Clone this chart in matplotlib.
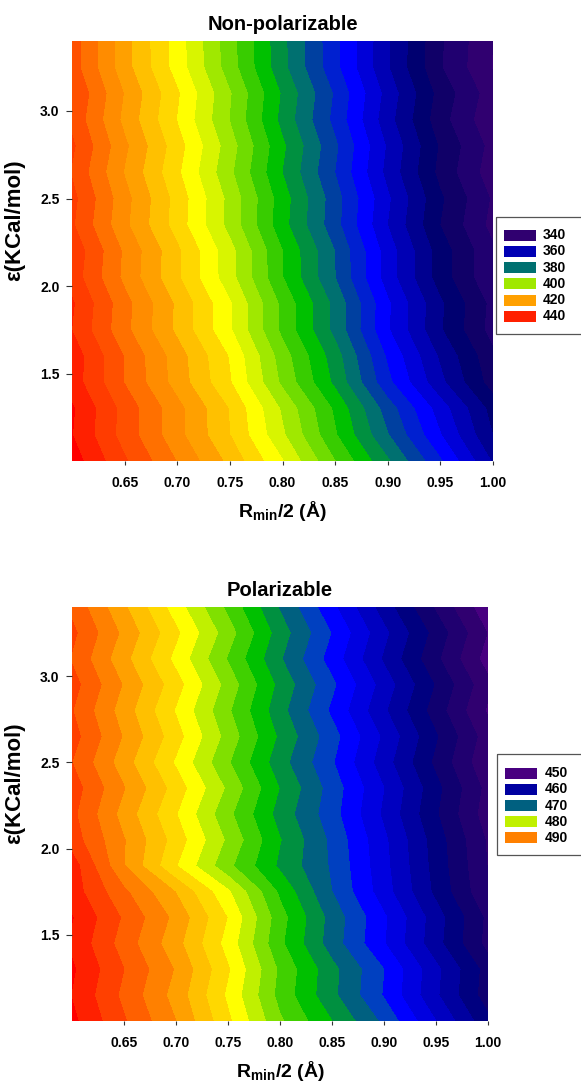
import numpy as np
import matplotlib
matplotlib.use('Agg')
import matplotlib.pyplot as plt
from matplotlib.patches import Rectangle
from matplotlib.transforms import Affine2D

plt.rcParams['font.family'] = ['Liberation Sans', 'DejaVu Sans']
plt.rcParams['mathtext.fontset'] = 'custom'
plt.rcParams['mathtext.rm'] = 'Liberation Sans'
plt.rcParams['mathtext.bf'] = 'Liberation Sans:bold'
plt.rcParams['mathtext.it'] = 'Liberation Sans:italic'

# ---------------- data ----------------
r_values = [0.60, 0.65, 0.70, 0.75, 0.80, 0.85, 0.90, 0.95, 1.00]
eps_values = [1.00, 1.15, 1.30, 1.45, 1.60, 1.75, 1.90, 2.05, 2.20,
              2.35, 2.50, 2.65, 2.80, 2.95, 3.10, 3.25, 3.40]

z_nonpol = [
    [446.0, 436.5, 427.8, 418.8, 408.2, 396.0, 384.5, 372.5, 359.5],
    [444.1, 434.3, 425.3, 416.0, 404.6, 392.4, 380.2, 368.2, 355.9],
    [444.5, 434.5, 425.3, 415.7, 403.3, 391.2, 378.0, 366.0, 354.4],
    [442.1, 431.8, 422.3, 412.3, 399.1, 387.0, 373.0, 361.0, 350.0],
    [442.3, 431.7, 421.9, 411.6, 397.9, 385.8, 371.3, 359.3, 348.9],
    [439.9, 429.1, 419.1, 408.5, 394.9, 382.8, 368.4, 356.4, 346.3],
    [440.5, 429.4, 419.2, 408.4, 394.9, 382.8, 368.6, 356.6, 346.7],
    [438.2, 427.0, 416.6, 405.5, 392.1, 380.0, 366.0, 354.0, 344.4],
    [438.8, 427.3, 416.8, 405.4, 392.0, 379.9, 366.0, 354.0, 344.6],
    [436.5, 424.9, 414.1, 402.6, 389.4, 377.4, 363.9, 351.9, 342.6],
    [437.2, 425.4, 414.4, 402.7, 389.8, 377.7, 364.6, 352.6, 343.4],
    [435.6, 423.7, 412.7, 400.8, 387.9, 375.9, 362.7, 350.7, 341.6],
    [436.7, 424.8, 413.7, 401.8, 388.7, 376.7, 363.4, 351.4, 342.5],
    [435.0, 422.9, 411.8, 399.8, 386.7, 374.7, 361.5, 349.5, 340.7],
    [435.9, 423.7, 412.5, 400.3, 387.4, 375.4, 362.4, 350.4, 341.7],
    [433.9, 421.6, 410.2, 397.9, 385.1, 373.1, 360.3, 348.3, 339.7],
    [434.0, 421.5, 410.0, 397.5, 385.0, 373.0, 360.5, 348.5, 340.0],
]

z_pol = [
    [498.5, 494.2, 490.0, 484.4, 478.3, 474.0, 469.5, 464.0, 458.5],
    [497.9, 493.5, 489.2, 483.6, 477.3, 472.5, 467.8, 462.3, 456.9],
    [498.3, 494.0, 489.8, 484.2, 477.6, 472.6, 468.0, 462.5, 457.1],
    [497.6, 493.1, 488.7, 483.2, 476.4, 471.0, 466.1, 460.7, 455.3],
    [498.1, 493.7, 489.4, 483.9, 476.8, 471.2, 466.3, 460.9, 455.5],
    [497.0, 492.4, 487.9, 482.3, 475.6, 470.0, 464.9, 459.5, 454.2],
    [497.0, 490.1, 484.1, 478.5, 473.6, 469.7, 464.6, 459.2, 453.9],
    [495.0, 490.1, 485.1, 479.6, 474.1, 469.5, 464.4, 459.0, 453.7],
    [494.5, 489.2, 484.1, 478.5, 473.2, 468.8, 463.6, 458.2, 452.9],
    [495.0, 490.1, 485.1, 479.6, 473.9, 469.1, 464.0, 458.6, 453.3],
    [494.0, 488.9, 483.7, 478.2, 472.8, 468.2, 462.9, 457.5, 452.3],
    [494.8, 489.8, 484.8, 479.2, 473.6, 468.8, 463.6, 458.2, 452.9],
    [494.1, 489.0, 483.8, 478.3, 472.7, 467.6, 462.3, 457.0, 451.7],
    [494.8, 489.8, 484.8, 479.2, 473.4, 468.4, 463.1, 457.8, 452.5],
    [493.8, 488.6, 483.4, 477.8, 472.2, 467.1, 461.7, 456.4, 451.1],
    [494.5, 489.5, 484.4, 478.9, 473.0, 467.9, 462.5, 457.2, 451.9],
    [493.5, 488.3, 483.0, 477.5, 471.8, 466.5, 461.0, 455.7, 450.5],
]

levels_nonpol = list(np.arange(336, 449, 4))
colors_nonpol = ['#3c0078', '#300070', '#200070', '#100068', '#000070', '#000090',
                 '#0000b4', '#0000d8', '#0000ff', '#0020d0', '#0040a0', '#007070',
                 '#009040', '#00c000', '#38cc00', '#70dc00', '#a0e800', '#d8f500',
                 '#ffff00', '#ffd700', '#ffc000', '#ffa000', '#ff8c00', '#ff7000',
                 '#ff5000', '#ff3c00', '#ff2000', '#ff0000']
legend_nonpol = [340, 360, 380, 400, 420, 440]

levels_pol = list(np.arange(448, 501, 2))
colors_pol = ['#500080', '#480080', '#300070', '#200070', '#100070', '#000080',
              '#0000a0', '#0000c0', '#0000e0', '#0000ff', '#0040c0', '#006080',
              '#009040', '#00c000', '#40d000', '#80e000', '#c0f000', '#ffff00',
              '#ffd800', '#ffc000', '#ffa000', '#ff8000', '#ff6000', '#ff4000',
              '#ff2000', '#ff0000']
legend_pol = [450, 460, 470, 480, 490]

x_ticks = [0.65, 0.70, 0.75, 0.80, 0.85, 0.90, 0.95, 1.00]
y_ticks = [1.5, 2.0, 2.5, 3.0]

# ---------------- figure ----------------
W, H = 581, 1082
fig = plt.figure(figsize=(W / 100, H / 100), dpi=100)
trans_px = Affine2D().scale(1 / W, -1 / H).translate(0, 1) + fig.transFigure

panels = [
    dict(title='Non-polarizable', box=(72, 41, 493, 461), z=z_nonpol,
         levels=levels_nonpol, colors=colors_nonpol, leg=legend_nonpol,
         frame=(496, 217, 583, 334), y0=235.0, dy=16.3, px=(504, 535.5), tx=543),
    dict(title='Polarizable', box=(72, 607, 488, 1021), z=z_pol,
         levels=levels_pol, colors=colors_pol, leg=legend_pol,
         frame=(497, 754, 583, 855), y0=773.3, dy=16.1, px=(505, 536.5), tx=545),
]

for p in panels:
    l, t, r, b = p['box']
    ax = fig.add_axes([l / W, 1 - b / H, (r - l) / W, (b - t) / H])
    ax.contourf(r_values, eps_values, np.array(p['z']), levels=p['levels'],
                colors=p['colors'], antialiased=False)
    ax.set_xlim(0.60, 1.00)
    ax.set_ylim(1.0, 3.40)
    for s in ax.spines.values():
        s.set_visible(False)
    ax.set_xticks(x_ticks)
    ax.set_xticklabels([f'{v:.2f}' for v in x_ticks])
    ax.set_yticks(y_ticks)
    ax.set_yticklabels([f'{v:.1f}' for v in y_ticks])
    ax.tick_params(axis='x', direction='out', length=3, width=0.8, pad=8,
                   labelsize=10, color='#333333')
    ax.tick_params(axis='y', direction='out', length=4, width=0.8, pad=5,
                   labelsize=10, color='#333333')
    for lab in ax.get_xticklabels() + ax.get_yticklabels():
        lab.set_fontweight('bold')
    ax.set_title(p['title'], fontsize=14.5, fontweight='bold', pad=8)
    ax.set_xlabel(r'$\mathbf{R_{min}}$/2 (Å)', fontsize=14, fontweight='bold')
    ax.xaxis.set_label_coords(0.5, -38 / (b - t))
    ax.set_ylabel('ε(KCal/mol)', fontsize=16, fontweight='bold')
    ax.yaxis.set_label_coords(-(l - 25) / (r - l), 0.574)

    # legend
    fx0, fy0, fx1, fy1 = p['frame']
    fig.add_artist(Rectangle((fx0, fy0), fx1 - fx0, fy1 - fy0, fill=False,
                             edgecolor='#555555', lw=0.9, transform=trans_px))
    for i, lv in enumerate(p['leg']):
        yc = p['y0'] + i * p['dy']
        col = p['colors'][p['levels'].index(lv)]
        fig.add_artist(Rectangle((p['px'][0], yc - 5.5), p['px'][1] - p['px'][0], 11,
                                 facecolor=col, edgecolor='none', transform=trans_px))
        fig.text(p['tx'] / W, 1 - yc / H, str(lv), ha='left', va='center',
                 fontsize=10, fontweight='bold')

fig.savefig('out.png', dpi=100)
